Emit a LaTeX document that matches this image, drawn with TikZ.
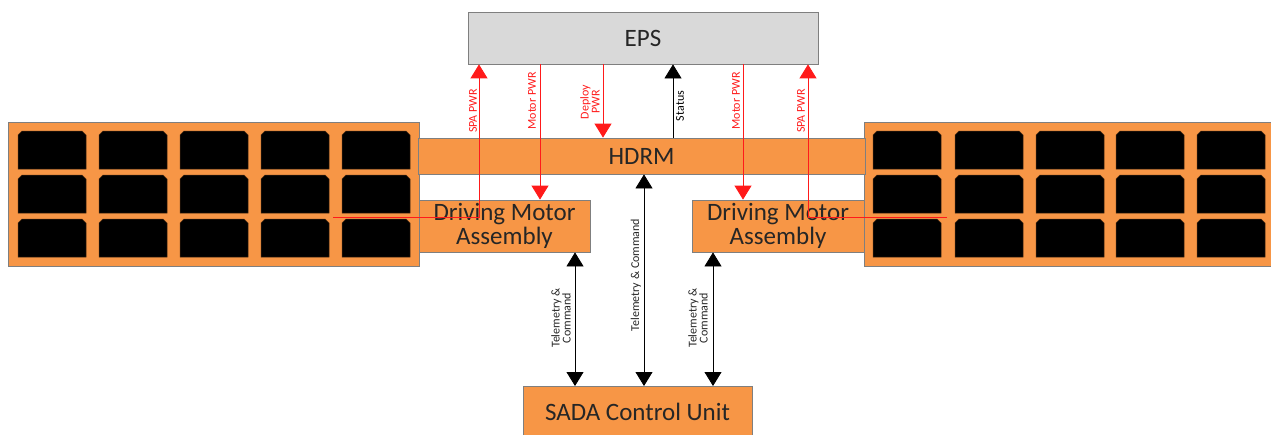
\documentclass[tikz,border=0pt]{standalone}
\usepackage{fontspec}
\setmainfont{Carlito}
\usetikzlibrary{arrows.meta,calc}
\definecolor{orng}{HTML}{F79646}
\definecolor{boxline}{HTML}{7F7F7F}
\definecolor{epsfill}{HTML}{D9D9D9}
\definecolor{txt}{HTML}{262626}
\definecolor{pwr}{HTML}{FF1A1A}
\begin{document}
\begin{tikzpicture}[x=1pt,y=-1pt,
  panel/.style={draw=boxline,fill=orng,line width=0.8pt,inner sep=0pt},
  obox/.style={draw=boxline,fill=orng,line width=0.8pt,inner sep=0pt,text=txt,font=\fontsize{25}{25}\selectfont},
  gbox/.style={draw=boxline,fill=epsfill,line width=0.8pt,inner sep=0pt,text=txt,font=\fontsize{25}{25}\selectfont},
  pwrline/.style={draw=pwr,line width=0.9pt},
  blkline/.style={draw=black,line width=0.8pt},
  tip/.tip={Triangle[width=17pt,length=14pt]},
  lbl/.style={rotate=90,font=\fontsize{12}{13}\selectfont,inner sep=0pt,align=center},
  cellstyle/.style={fill=black,draw=black!70!orng,line width=0.5pt}
]
\useasboundingbox (0,0) rectangle (1271,434);
\clip (0,0) rectangle (1271,434);

% solar panels
\node[panel,minimum width=411pt,minimum height=144pt] (panelL) at (213.5,194) {};
\node[panel,minimum width=416pt,minimum height=144pt] (panelR) at (1072,194) {};
\foreach \x in {18,99,180,261,342}{
  \foreach \y in {131,175,219}{
    \draw[cellstyle] (\x,\y+38) -- (\x,\y+4) -- (\x+4,\y) -- (\x+64,\y) -- (\x+68,\y+4) -- (\x+68,\y+38) -- cycle;
  }
}
\foreach \x in {873,955,1036,1116,1197}{
  \foreach \y in {131,175,219}{
    \draw[cellstyle] (\x,\y+38) -- (\x,\y+4) -- (\x+4,\y) -- (\x+64,\y) -- (\x+68,\y+4) -- (\x+68,\y+38) -- cycle;
  }
}

% boxes
\node[obox,minimum width=447pt,minimum height=36pt] (hdrm) at (641.5,156) {HDRM};
\node[obox,minimum width=171pt,minimum height=52pt,align=center] (dmaL) at (504.5,226) {Driving Motor\\[-1pt]Assembly};
\node[obox,minimum width=172pt,minimum height=52pt,align=center] (dmaR) at (778,226) {Driving Motor\\[-1pt]Assembly};
\node[gbox,minimum width=350pt,minimum height=52pt] (eps) at (643,38) {EPS};
\node[obox,minimum width=229pt,minimum height=54pt,anchor=north] (sada) at (637.5,386) {};
\node[text=txt,font=\fontsize{25}{25}\selectfont] (sadatxt) at (637.5,412) {SADA Control Unit};

% x positions
\coordinate (spaLx) at (479,0);
\coordinate (mLx) at (540,0);
\coordinate (dpx) at (603,0);
\coordinate (stx) at (673,0);
\coordinate (mRx) at (743,0);
\coordinate (spaRx) at (808,0);
\coordinate (tLx) at (575,0);
\coordinate (tMx) at (644,0);
\coordinate (tRx) at (713,0);
\coordinate (spaLs) at (333,217);
\coordinate (spaRs) at (947,217);

% power lines
\draw[pwrline,-{tip[fill=pwr]}] (spaLs) -| (spaLx |- eps.south);
\draw[pwrline,-{tip[fill=pwr]}] (spaRs) -| (spaRx |- eps.south);
\draw[pwrline,-{tip[fill=pwr]}] (mLx |- eps.south) -- (mLx |- dmaL.north);
\draw[pwrline,-{tip[fill=pwr]}] (mRx |- eps.south) -- (mRx |- dmaR.north);
\draw[pwrline,-{tip[fill=pwr]}] (dpx |- eps.south) -- (dpx |- hdrm.north);
\draw[blkline,-{tip}] (stx |- hdrm.north) -- (stx |- eps.south);

% telemetry
\draw[blkline,{tip}-{tip}] (tLx |- dmaL.south) -- (tLx |- sada.north);
\draw[blkline,{tip}-{tip}] (tMx |- hdrm.south) -- (tMx |- sada.north);
\draw[blkline,{tip}-{tip}] (tRx |- dmaR.south) -- (tRx |- sada.north);

% labels
\node[lbl,text=pwr] (l1) at (473,111) {SPA PWR};
\node[lbl,text=pwr] (l2) at (532,101) {Motor PWR};
\node[lbl,text=pwr] (l3) at (590,102) {Deploy\\[-2pt]PWR};
\node[lbl,text=black] (l4) at (680,106) {Status};
\node[lbl,text=pwr] (l5) at (736,101) {Motor PWR};
\node[lbl,text=pwr] (l6) at (801,111) {SPA PWR};
\node[lbl,text=txt] (l7) at (561,318) {Telemetry \&\\[-2pt]Command};
\node[lbl,text=txt] (l8) at (636,275) {Telemetry \& Command};
\node[lbl,text=txt] (l9) at (698,318) {Telemetry \&\\[-2pt]Command};
\end{tikzpicture}
\end{document}
